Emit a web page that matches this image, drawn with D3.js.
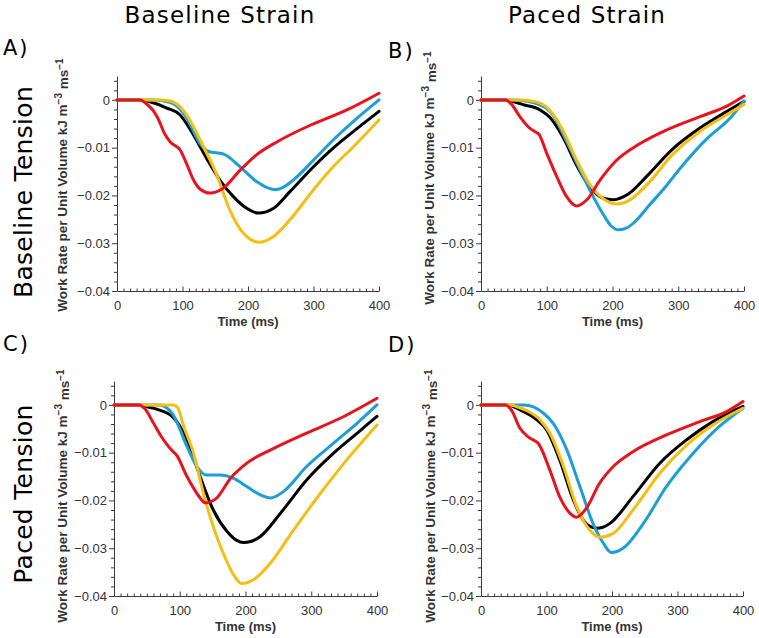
<!DOCTYPE html>
<html><head><meta charset="utf-8">
<script src="https://cdn.jsdelivr.net/npm/d3@7"></script>
<style>
html,body{margin:0;padding:0;background:#fff;}
svg{display:block;}
</style>
</head><body>
<svg id="chart" width="759" height="638"></svg>
<script>
// ---- tick labels / categories ----
const timeTicks = [0, 100, 200, 300, 400];
const rateTicks = [-0.04, -0.03, -0.02, -0.01, 0];
const columnTitles = ["Baseline Strain", "Paced Strain"];
const rowTitles = ["Baseline Tension", "Paced Tension"];
const panelLetters = ["A)", "B)", "C)", "D)"];
const seriesNames = ["black", "blue", "yellow", "red"];
const seriesColors = ["#000000", "#1c9fd7", "#f6be13", "#e8141d"];

// ---- series values: [time (ms), work rate] ----
// Panel A
const A_black = [[0,0],[35,0],[50,-0.0004],[76,-0.0017],[96,-0.0031],[117,-0.0074],[137,-0.0123],[157,-0.0168],[178,-0.0203],[198,-0.0227],[216,-0.0237],[239,-0.0227],[264,-0.0192],[300,-0.014],[330,-0.0101],[361,-0.0066],[400,-0.0024]];
const A_blue = [[0,0],[55,0],[70,-0.0002],[86,-0.0008],[106,-0.0037],[127,-0.0092],[140,-0.0108],[162,-0.0113],[188,-0.014],[213,-0.0171],[230,-0.0184],[242,-0.0188],[255,-0.0182],[269,-0.0168],[300,-0.0126],[330,-0.0084],[361,-0.0045],[400,0]];
const A_yellow = [[0,0],[65,0],[80,-0.0002],[96,-0.0014],[111,-0.0042],[127,-0.0084],[152,-0.0156],[172,-0.023],[193,-0.0279],[205,-0.0293],[216,-0.0298],[227,-0.0295],[239,-0.0286],[264,-0.0251],[300,-0.0188],[330,-0.014],[361,-0.0098],[400,-0.0042]];
const A_red = [[0,0],[35,0],[45,-0.0008],[55,-0.0022],[63,-0.004],[72,-0.0069],[82,-0.0089],[92,-0.0099],[96,-0.0104],[106,-0.0133],[117,-0.0168],[127,-0.0187],[142,-0.0195],[162,-0.0185],[188,-0.0147],[213,-0.0115],[244,-0.0088],[300,-0.005],[351,-0.0021],[400,0.0014]];
// Panel B
const B_black = [[0,0],[38,0],[50,-0.0004],[64,-0.001],[90,-0.0021],[105,-0.0037],[125,-0.0079],[145,-0.0136],[166,-0.0183],[186,-0.0206],[201,-0.0209],[224,-0.0197],[252,-0.016],[293,-0.0101],[333,-0.0059],[374,-0.0024],[400,-0.0003]];
const B_blue = [[0,0],[50,0],[70,-0.0003],[85,-0.0008],[100,-0.0018],[110,-0.0033],[125,-0.0072],[145,-0.013],[166,-0.019],[186,-0.024],[198,-0.0264],[209,-0.0272],[220,-0.0269],[235,-0.0254],[255,-0.0222],[280,-0.0183],[303,-0.0143],[343,-0.0082],[379,-0.0038],[400,-0.0002]];
const B_yellow = [[0,0],[55,0],[75,-0.0002],[90,-0.0007],[100,-0.0015],[110,-0.0031],[125,-0.0065],[145,-0.0125],[166,-0.0178],[186,-0.0207],[206,-0.0218],[227,-0.0209],[252,-0.0178],[293,-0.0112],[333,-0.0066],[374,-0.0031],[400,-0.001]];
const B_red = [[0,0],[37,0],[47,-0.001],[59,-0.0035],[74,-0.0059],[84,-0.0068],[88,-0.0072],[100,-0.0112],[115,-0.016],[130,-0.0202],[145,-0.0222],[161,-0.0209],[181,-0.0168],[205,-0.0128],[240,-0.0093],[282,-0.0063],[333,-0.0035],[374,-0.0013],[400,0.0008]];
// Panel C
const C_black = [[0,0],[38,0],[50,-0.0004],[65,-0.0009],[90,-0.0026],[111,-0.0073],[131,-0.015],[151,-0.022],[172,-0.0265],[186,-0.0283],[197,-0.0288],[208,-0.0286],[222,-0.0276],[253,-0.0227],[293,-0.0157],[334,-0.0101],[370,-0.0059],[400,-0.0024]];
const C_blue = [[0,0],[70,0],[80,-0.0006],[90,-0.0021],[111,-0.0087],[126,-0.0129],[141,-0.0147],[161,-0.0147],[182,-0.0154],[202,-0.0171],[222,-0.0188],[238,-0.0195],[258,-0.0181],[293,-0.0129],[334,-0.008],[370,-0.0038],[400,0]];
const C_yellow = [[0,0],[90,0],[97,-0.0006],[106,-0.0045],[121,-0.0101],[136,-0.0185],[151,-0.0255],[166,-0.031],[182,-0.0356],[194,-0.0374],[212,-0.0366],[238,-0.0331],[273,-0.0262],[314,-0.0185],[354,-0.0115],[400,-0.0042]];
const C_red = [[0,0],[37,0],[47,-0.0008],[60,-0.0038],[70,-0.0062],[80,-0.0082],[90,-0.0098],[95,-0.0105],[111,-0.015],[126,-0.0185],[139,-0.0205],[156,-0.0195],[177,-0.0154],[202,-0.0122],[243,-0.0091],[293,-0.0059],[344,-0.0028],[400,0.0014]];
// Panel D
const D_black = [[0,0],[38,0],[50,-0.0004],[59,-0.001],[85,-0.0031],[100,-0.0052],[120,-0.0115],[141,-0.0199],[156,-0.0241],[166,-0.0254],[176,-0.0258],[186,-0.0256],[197,-0.0248],[232,-0.0192],[273,-0.0122],[314,-0.0073],[354,-0.0035],[400,-0.0003]];
const D_blue = [[0,0],[65,0],[80,-0.0004],[95,-0.0017],[110,-0.0038],[131,-0.0094],[151,-0.0171],[171,-0.0248],[187,-0.029],[199,-0.0309],[217,-0.03],[248,-0.0248],[283,-0.0171],[324,-0.0101],[364,-0.0045],[400,-0.0007]];
const D_yellow = [[0,0],[45,0],[55,-0.0004],[70,-0.0012],[90,-0.0031],[105,-0.0059],[126,-0.0129],[146,-0.0213],[166,-0.0262],[181,-0.0277],[202,-0.0269],[232,-0.022],[273,-0.0143],[314,-0.0084],[354,-0.0042],[400,-0.0007]];
const D_red = [[0,0],[37,0],[47,-0.0012],[59,-0.0048],[72,-0.0067],[82,-0.0075],[87,-0.008],[105,-0.0136],[120,-0.0192],[136,-0.0227],[146,-0.0235],[161,-0.0216],[181,-0.0164],[202,-0.0129],[232,-0.0098],[283,-0.0063],[334,-0.0035],[375,-0.0014],[400,0.0007]];

const panelSeries = [
  [A_black, A_blue, A_yellow, A_red],
  [B_black, B_blue, B_yellow, B_red],
  [C_black, C_blue, C_yellow, C_red],
  [D_black, D_blue, D_yellow, D_red]
];

// ---- layout ----
const layout = [
  {left:117, right:379, top:76, bottom:291, letterX:3, letterY:55, ylabX:66.5, ylabY:185},
  {left:481, right:744, top:76, bottom:291, letterX:388, letterY:58, ylabX:434, ylabY:178},
  {left:114, right:377, top:381, bottom:596, letterX:3, letterY:351, ylabX:67, ylabY:496},
  {left:481, right:743, top:381, bottom:596, letterX:388, letterY:352, ylabX:435, ylabY:496}
];

const svg = d3.select("#chart");
const axisColor = "#3a3a3a";
const labelColor = "#333";
const tickFont = "'Liberation Sans', Arial, sans-serif";
const fmt = d => d === 0 ? "0" : "\u2212" + d3.format(".2f")(Math.abs(d));

layout.forEach((L, i) => {
  const x = d3.scaleLinear().domain([0, 400]).range([L.left, L.right]);
  const y = d3.scaleLinear().domain([-0.04, 0.005]).range([L.bottom, L.top]);
  const g = svg.append("g");

  // minor y ticks
  const yMinor = d3.range(-40, 5, 2).map(v => v / 1000).filter(v => Math.abs(v * 100 - Math.round(v * 100)) > 1e-9);
  g.append("g").attr("transform", `translate(${L.left},0)`)
    .call(d3.axisLeft(y).tickValues(yMinor).tickSize(3).tickSizeOuter(0).tickFormat(""))
    .call(a => a.select(".domain").remove())
    .call(a => a.selectAll("line").attr("stroke", axisColor));
  // minor x ticks
  const xMinor = d3.range(10, 400, 10).filter(v => v % 100 !== 0);
  g.append("g").attr("transform", `translate(0,${L.bottom})`)
    .call(d3.axisBottom(x).tickValues(xMinor).tickSize(-2.5).tickSizeOuter(0).tickFormat(""))
    .call(a => a.select(".domain").remove())
    .call(a => a.selectAll("line").attr("stroke", axisColor));

  // major y axis
  const ya = g.append("g").attr("transform", `translate(${L.left},0)`)
    .call(d3.axisLeft(y).tickValues(rateTicks).tickSize(5).tickSizeOuter(0).tickPadding(2).tickFormat(fmt));
  ya.select(".domain").attr("stroke", axisColor);
  ya.selectAll("line").attr("stroke", axisColor);
  ya.selectAll("text").attr("fill", labelColor).style("font-family", tickFont).style("font-size", "13px");

  // major x axis
  const xa = g.append("g").attr("transform", `translate(0,${L.bottom})`)
    .call(d3.axisBottom(x).tickValues(timeTicks).tickSize(-4.5).tickSizeOuter(0).tickPadding(10));
  xa.select(".domain").attr("stroke", axisColor);
  xa.selectAll("line").attr("stroke", axisColor);
  xa.selectAll("text").attr("fill", labelColor).style("font-family", tickFont).style("font-size", "13px");

  // x label
  g.append("text")
    .attr("x", (L.left + L.right) / 2).attr("y", L.bottom + 35)
    .attr("text-anchor", "middle")
    .style("font-family", tickFont).style("font-size", "13px").style("font-weight", "bold")
    .attr("fill", labelColor)
    .text("Time (ms)");

  // y label
  const yl = g.append("text")
    .attr("transform", `translate(${L.ylabX},${L.ylabY}) rotate(-90)`)
    .attr("text-anchor", "middle")
    .style("font-family", tickFont).style("font-size", "13.5px").style("font-weight", "bold")
    .attr("fill", labelColor);
  yl.append("tspan").text("Work Rate per Unit Volume kJ m");
  yl.append("tspan").attr("dy", "-0.5em").style("font-size", "10px").text("\u22123");
  yl.append("tspan").attr("dy", "0.5em").text(" ms");
  yl.append("tspan").attr("dy", "-0.5em").style("font-size", "10px").text("\u22121");

  // lines
  const line = d3.line().x(d => x(d[0])).y(d => y(d[1])).curve(d3.curveMonotoneX);
  panelSeries[i].forEach((s, k) => {
    g.append("path").datum(s)
      .attr("d", line)
      .attr("fill", "none")
      .attr("stroke", seriesColors[k])
      .attr("stroke-width", 3)
      .attr("stroke-linejoin", "round")
      .attr("stroke-linecap", "round");
  });

  // panel letter
  svg.append("text").attr("x", L.letterX).attr("y", L.letterY)
    .style("font-family", "'DejaVu Sans', Verdana, sans-serif").style("font-size", "21px")
    .style("letter-spacing", "2px")
    .attr("fill", "#000").text(panelLetters[i]);
});

// column titles
const titleX = [220, 587];
columnTitles.forEach((t, i) => {
  svg.append("text").attr("x", titleX[i]).attr("y", 23)
    .attr("text-anchor", "middle")
    .style("font-family", "'DejaVu Sans', Verdana, sans-serif").style("font-size", "23px")
    .style("letter-spacing", "1.2px")
    .attr("fill", "#000").text(t);
});
// row titles
const rowY = [192, 494];
rowTitles.forEach((t, i) => {
  svg.append("text")
    .attr("transform", `translate(32,${rowY[i]}) rotate(-90)`)
    .attr("text-anchor", "middle")
    .style("font-family", "'DejaVu Sans', Verdana, sans-serif").style("font-size", "25px")
    .style("letter-spacing", "0.3px")
    .attr("fill", "#000").text(t);
});
</script>
</body></html>
